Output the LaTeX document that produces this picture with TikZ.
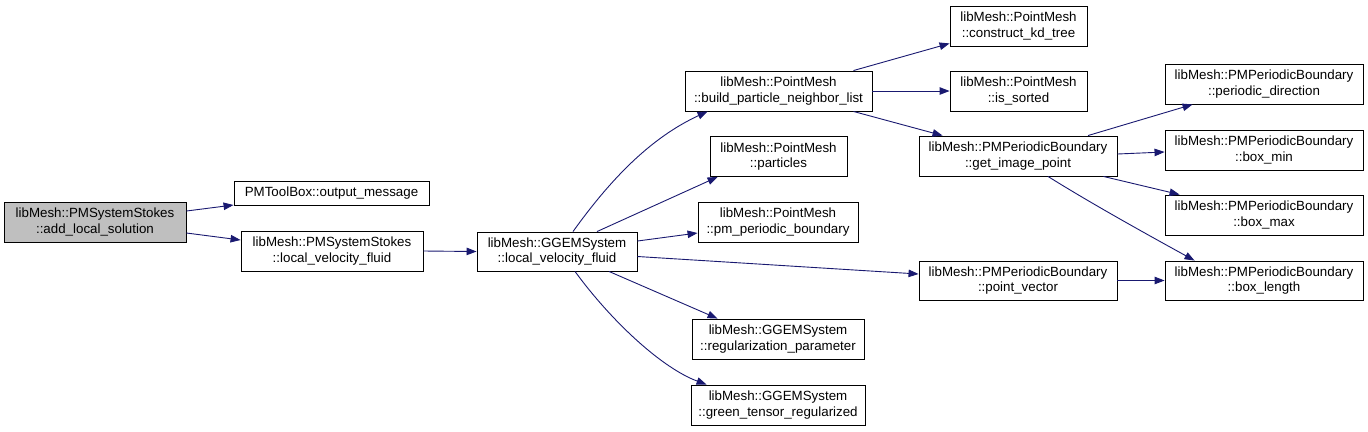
\documentclass[tikz,border=0pt]{standalone}
\usepackage{fontspec}
\setmainfont{Liberation Sans}
\usetikzlibrary{arrows.meta}
\definecolor{edgeblue}{RGB}{25,25,112}
\definecolor{fillgray}{RGB}{191,191,191}
\tikzset{
  fn/.style={draw=black, line width=0.9bp, rectangle, inner sep=0pt, align=center,
    font=\fontsize{13.33bp}{15.6bp}\selectfont, minimum height=40bp},
  fnone/.style={fn, minimum height=24bp},
  rootfn/.style={fn, fill=fillgray},
  edge/.style={draw=edgeblue, line width=0.9bp, -{Triangle[length=10bp,width=7.5bp]}, edgeblue}
}
\begin{document}
\begin{tikzpicture}[x=1bp,y=-1bp]
\useasboundingbox (0,0) rectangle (1368,431);
\node[rootfn, minimum width=182bp] (n1) at (95,222) {libMesh::PMSystemStokes\\::add\_local\_solution};
\node[fnone, minimum width=195bp] (n2) at (331.5,193) {PMToolBox::output\_message};
\node[fn, minimum width=182bp] (n3) at (332,251) {libMesh::PMSystemStokes\\::local\_velocity\_fluid};
\node[fn, minimum width=160bp, minimum height=39bp] (n4) at (557,251.5) {libMesh::GGEMSystem\\::local\_velocity\_fluid};
\node[fn, minimum width=187bp] (n5) at (778.5,91) {libMesh::PointMesh\\::build\_particle\_neighbor\_list};
\node[fn, minimum width=137bp] (n6) at (778.5,156.5) {libMesh::PointMesh\\::particles};
\node[fn, minimum width=160bp] (n7) at (778,222) {libMesh::PointMesh\\::pm\_periodic\_boundary};
\node[fn, minimum width=172bp] (n8) at (778,339) {libMesh::GGEMSystem\\::regularization\_parameter};
\node[fn, minimum width=174bp] (n9) at (778,405) {libMesh::GGEMSystem\\::green\_tensor\_regularized};
\node[fn, minimum width=137bp] (n10) at (1018.5,26) {libMesh::PointMesh\\::construct\_kd\_tree};
\node[fn, minimum width=137bp] (n11) at (1018.5,91) {libMesh::PointMesh\\::is\_sorted};
\node[fn, minimum width=198bp] (n12) at (1018,156) {libMesh::PMPeriodicBoundary\\::get\_image\_point};
\node[fn, minimum width=198bp, minimum height=39bp] (n13) at (1018,280.5) {libMesh::PMPeriodicBoundary\\::point\_vector};
\node[fn, minimum width=198bp] (n14) at (1264,84) {libMesh::PMPeriodicBoundary\\::periodic\_direction};
\node[fn, minimum width=198bp] (n15) at (1264,150) {libMesh::PMPeriodicBoundary\\::box\_min};
\node[fn, minimum width=198bp] (n16) at (1264,215) {libMesh::PMPeriodicBoundary\\::box\_max};
\node[fn, minimum width=198bp, minimum height=39bp] (n17) at (1264,280.5) {libMesh::PMPeriodicBoundary\\::box\_length};

\draw[edge] ([yshift=11bp]n1.east) -- ([yshift=-12bp]n2.west);
\draw[edge] ([yshift=-11bp]n1.east) -- ([yshift=11bp]n3.west);
\draw[edge] (n3.east) -- (n4.west);
\draw[edge] ([xshift=16bp]n4.north) .. controls (610,180) and (650,138) .. ([xshift=23bp]n5.south west);
\draw[edge] ([xshift=40bp]n4.north) -- ([xshift=8bp]n6.south west);
\draw[edge] ([yshift=10.5bp]n4.east) -- ([yshift=-11bp]n7.west);
\draw[edge] ([yshift=-5bp]n4.east) -- ([yshift=6.5bp]n13.west);
\draw[edge] ([xshift=52bp]n4.south) -- ([xshift=26bp]n8.north west);
\draw[edge] ([xshift=18bp]n4.south) .. controls (612,322) and (662,368) .. ([xshift=16bp]n9.north west);
\draw[edge] ([xshift=-19bp]n5.north east) -- ([yshift=3bp]n10.south west);
\draw[edge] (n5.east) -- (n11.west);
\draw[edge] ([xshift=-19bp]n5.south east) -- ([xshift=24bp]n12.north west);
\draw[edge] ([xshift=70bp]n12.north) -- ([xshift=28bp]n14.south west);
\draw[edge] ([yshift=2bp]n12.east) -- ([yshift=-2bp]n15.west);
\draw[edge] ([xshift=-14bp]n12.south east) -- ([xshift=15bp]n16.north west);
\draw[edge] ([xshift=30bp]n12.south) .. controls (1092,204) and (1150,236) .. ([xshift=30bp]n17.north west);
\draw[edge] (n13.east) -- (n17.west);
\end{tikzpicture}
\end{document}
